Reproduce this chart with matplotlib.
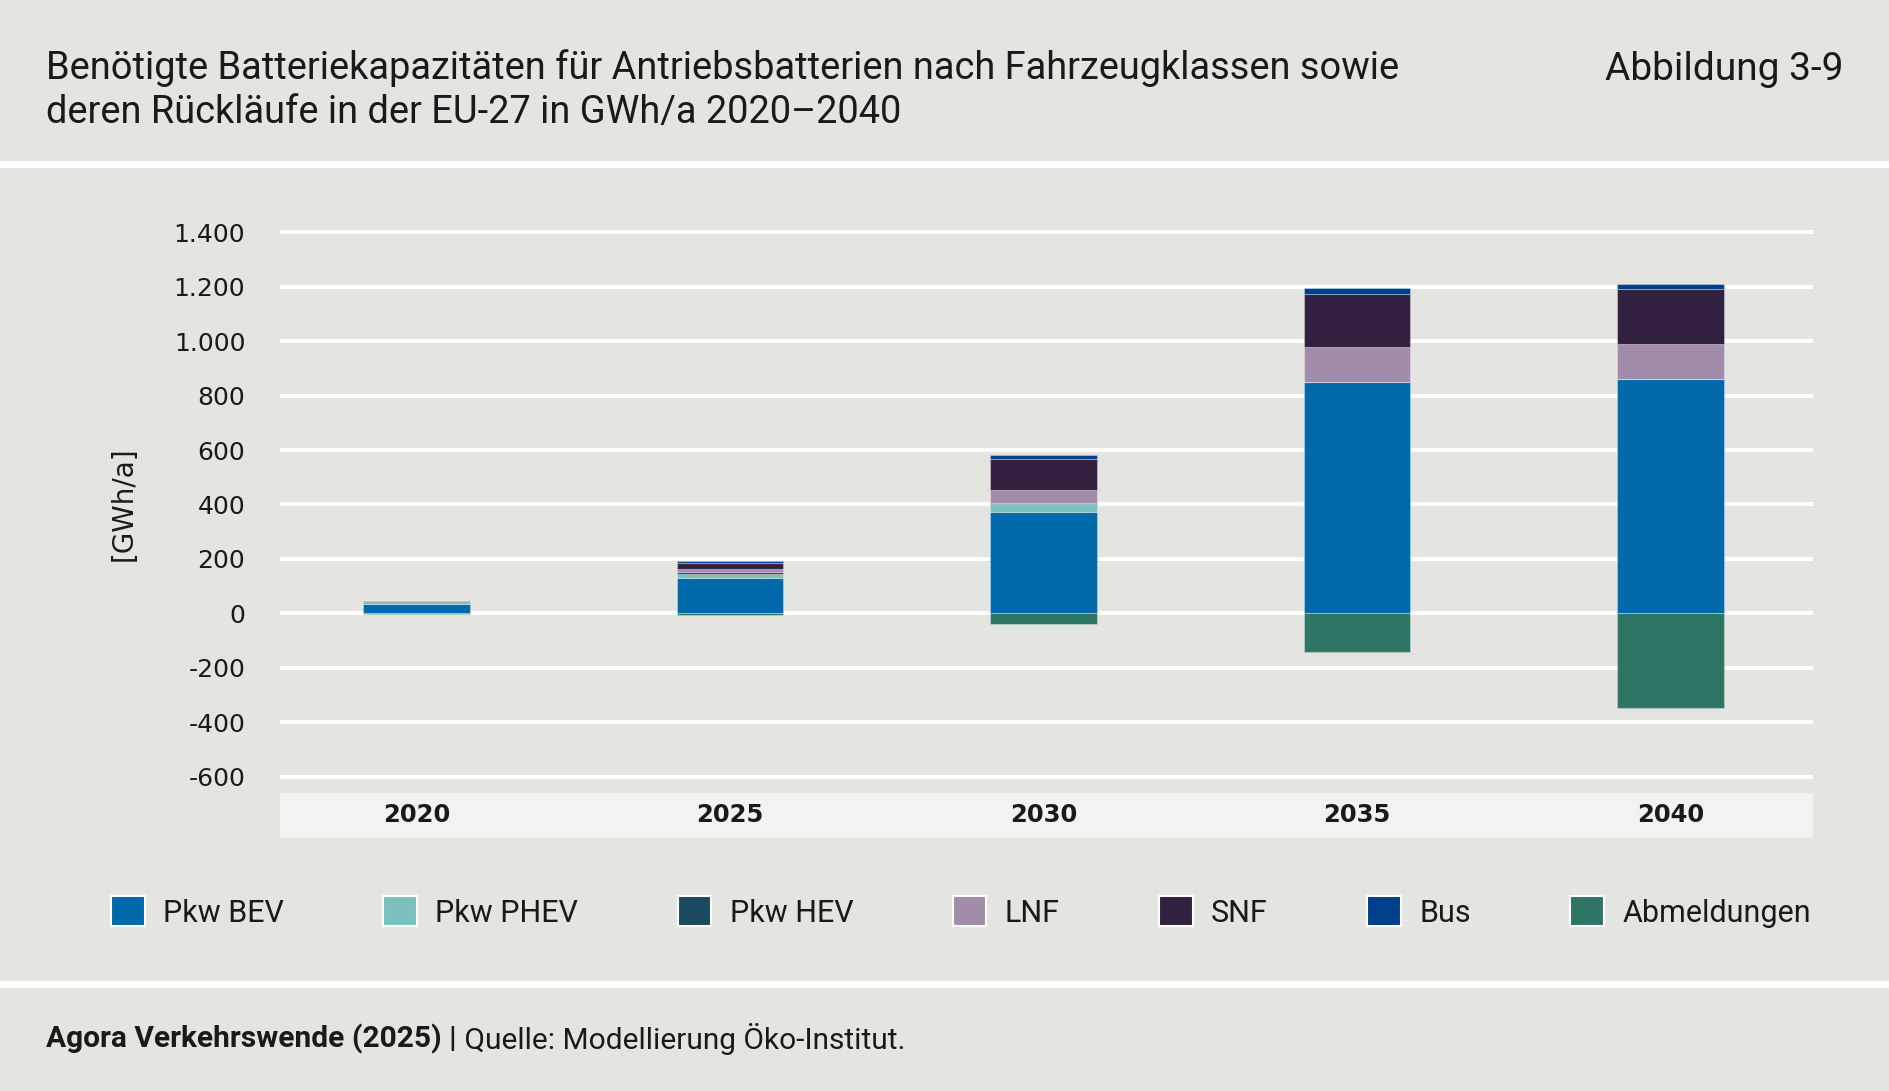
import matplotlib
matplotlib.use('Agg')
import matplotlib.pyplot as plt
from matplotlib.patches import Patch, Rectangle
import numpy as np

# Daten (GWh/a)
jahre = ['2020', '2025', '2030', '2035', '2040']
pkw_bev = [36, 131, 373, 851, 860]
pkw_phev = [6, 15, 30, 0, 0]
pkw_hev = [4, 7, 3, 0, 0]
lnf = [3, 11, 46, 128, 129]
snf = [1, 22, 115, 196, 202]
bus = [0.5, 7, 14, 20, 21]
abmeldungen = [-1, -8, -39, -141, -349]

serien = ['Pkw BEV', 'Pkw PHEV', 'Pkw HEV', 'LNF', 'SNF', 'Bus']
werte = [pkw_bev, pkw_phev, pkw_hev, lnf, snf, bus]
farben = ['#0069aa', '#7bc0bc', '#1d4a63', '#a28caa', '#31203f', '#003f8a']
farbe_abm = '#2e7565'

yticks = list(range(-600, 1401, 200))

bg = '#e4e5e0'
W, H = 1890, 1091
txt = '#1a1a1a'

fig = plt.figure(figsize=(W / 100, H / 100), dpi=100, facecolor=bg)

def fy(py):
    return 1 - py / H

# weisse Trennlinien
fig.add_artist(Rectangle((0, fy(168)), 1, 7 / H, transform=fig.transFigure,
                         color='white', lw=0))
fig.add_artist(Rectangle((0, fy(988)), 1, 7 / H, transform=fig.transFigure,
                         color='white', lw=0))

# Titel
fig.text(46 / W, fy(90), 'Benötigte Batteriekapazitäten für Antriebsbatterien nach Fahrzeugklassen sowie\n'
         'deren Rückläufe in der EU-27 in GWh/a 2020–2040',
         family='Roboto', fontsize=27.4, color=txt, va='center', ha='left',
         linespacing=1.22)
fig.text(1844 / W, fy(69), 'Abbildung 3-9', family='Roboto', fontsize=28,
         color=txt, va='center', ha='right')

ax = fig.add_axes([280 / W, 1 - 838 / H, 1533 / W, 611 / H])
ax.patch.set_visible(False)
ax.set_xlim(-0.435, 4.455)
ax.set_ylim(-826, 1420)

x = np.arange(len(jahre))
breite = 0.34
unten = np.zeros(len(jahre))
for name, v, c in zip(serien, werte, farben):
    ax.bar(x, v, breite, bottom=unten, color=c, edgecolor=(1, 1, 1, 0.3), lw=0.8, zorder=3)
    unten += np.array(v)
ax.bar(x, abmeldungen, breite, color=farbe_abm, edgecolor=(1, 1, 1, 0.3), lw=0.8, zorder=3)

ax.set_yticks(yticks)
ax.set_yticklabels([f'{v:,}'.replace(',', '.') for v in yticks], family='DejaVu Sans',
                   fontsize=18, color=txt)
ax.tick_params(axis='y', length=0, pad=25)
ax.set_xticks([])
ax.grid(axis='y', color='white', lw=2.8, zorder=0)
ax.set_axisbelow(True)
for s in ax.spines.values():
    s.set_visible(False)

# Band mit den Jahren
ax.axhspan(-826, -660, color='#f2f2f0', lw=0, zorder=0.5)
for i, j in enumerate(jahre):
    ax.text(i, -743, j, ha='center', va='center', family='DejaVu Sans',
            fontweight='bold', fontsize=17.5, color=txt)

fig.text(124 / W, fy(504), '[GWh/a]', rotation=90, ha='center', va='center',
         family='DejaVu Sans', fontsize=20, color=txt)

# Legende
handles = [Patch(facecolor=c, edgecolor='white', lw=1.5) for c in farben + [farbe_abm]]
fig.legend(handles, serien + ['Abmeldungen'], loc='center', ncol=7, mode='expand',
           bbox_to_anchor=(111 / W, fy(912) - 0.02, 1700 / W, 0.04),
           frameon=False, borderpad=0, borderaxespad=0,
           prop={'family': 'Roboto', 'size': 22}, labelcolor=txt,
           handlelength=1.1, handleheight=1.1, handletextpad=0.6)

# Fusszeile
fett = fig.text(46 / W, fy(1039), 'Agora Verkehrswende (2025) |', family='Roboto',
                fontweight='bold', fontsize=21.5, color=txt, va='center', ha='left')
fig.canvas.draw()
bb = fett.get_window_extent()
fig.text(bb.x1 / W, fy(1039), ' Quelle: Modellierung Öko-Institut.', family='Roboto',
         fontsize=21.5, color=txt, va='center', ha='left')

fig.savefig('out.png', dpi=100, facecolor=bg)
